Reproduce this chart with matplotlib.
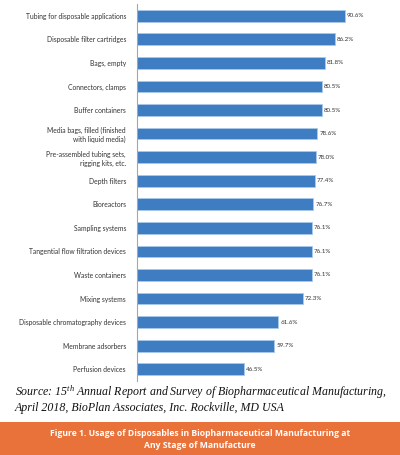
import matplotlib
matplotlib.use("Agg")
import matplotlib.pyplot as plt
from matplotlib.patches import Rectangle

categories = [
    "Tubing for disposable applications",
    "Disposable filter cartridges",
    "Bags, empty",
    "Connectors, clamps",
    "Buffer containers",
    "Media bags, filled (finished\nwith liquid media)",
    "Pre-assembled tubing sets,\nrigging kits, etc.",
    "Depth filters",
    "Bioreactors",
    "Sampling systems",
    "Tangential flow filtration devices",
    "Waste containers",
    "Mixing systems",
    "Disposable chromatography devices",
    "Membrane adsorbers",
    "Perfusion devices",
]
values = [90.6, 86.2, 81.8, 80.5, 80.5, 78.6, 78.0, 77.4, 76.7, 76.1, 76.1, 76.1, 72.3, 61.6, 59.7, 46.5]
value_labels = ["90.6%", "86.2%", "81.8%", "80.5%", "80.5%", "78.6%", "78.0%", "77.4%",
                "76.7%", "76.1%", "76.1%", "76.1%", "72.3%", "61.6%", "59.7%", "46.5%"]

source_line1 = "Source: 15$^{th}$ Annual Report and Survey of Biopharmaceutical Manufacturing,"
source_line2 = "April 2018, BioPlan Associates, Inc. Rockville, MD USA"
banner_text = "Figure 1. Usage of Disposables in Biopharmaceutical Manufacturing at\nAny Stage of Manufacture"

plt.rcParams['mathtext.fontset'] = 'custom'
plt.rcParams['mathtext.rm'] = 'Liberation Serif:italic'
plt.rcParams['mathtext.it'] = 'Liberation Serif:italic'

W, H = 400, 455
fig = plt.figure(figsize=(W / 100, H / 100), dpi=100)
fig.patch.set_facecolor("white")

ax_left = 137 / W
ax_right = 366.6 / W
ax_top = 1 - 4 / H
ax_bottom = 1 - 381 / H
ax = fig.add_axes([ax_left, ax_bottom, ax_right - ax_left, ax_top - ax_bottom])

y = list(range(len(categories)))
bars = ax.barh(y, values, height=0.5, color="#3E7DC1", edgecolor="#A9C9EA", linewidth=0.6)
ax.set_xlim(0, 100)
ax.set_ylim(len(categories) - 0.5, -0.5)

for yi, v, lab in zip(y, values, value_labels):
    ax.text(v + 0.9, yi, lab, va="center", ha="left", fontsize=4.5,
            family="Lato", color="#333333")

ax.set_yticks(y)
ax.set_yticklabels(categories, fontsize=4.9, family="Lato", color="#333333",
                   linespacing=1.3)
ax.tick_params(axis="y", length=0, pad=8)
ax.set_xticks([])
for s in ["top", "right", "bottom"]:
    ax.spines[s].set_visible(False)
ax.spines["left"].set_color("#A6A6A6")
ax.spines["left"].set_linewidth(0.8)

# Source text
fig.text(15 / W, 1 - 392 / H, source_line1, fontsize=8.6, family="Liberation Serif",
         style="italic", color="#111111", va="center", ha="left")
fig.text(15 / W, 1 - 408 / H, source_line2, fontsize=8.6, family="Liberation Serif",
         style="italic", color="#111111", va="center", ha="left")

# Orange banner
fig.patches.append(Rectangle((0, 0), 1, (H - 422) / H, transform=fig.transFigure,
                             facecolor="#E9713A", edgecolor="none", zorder=0))
fig.text(0.5, 1 - 439.5 / H, banner_text, fontsize=6.2, family="Open Sans",
         weight="bold", color="white", ha="center", va="center", linespacing=1.35)

fig.savefig("out.png", dpi=100, facecolor="white")
